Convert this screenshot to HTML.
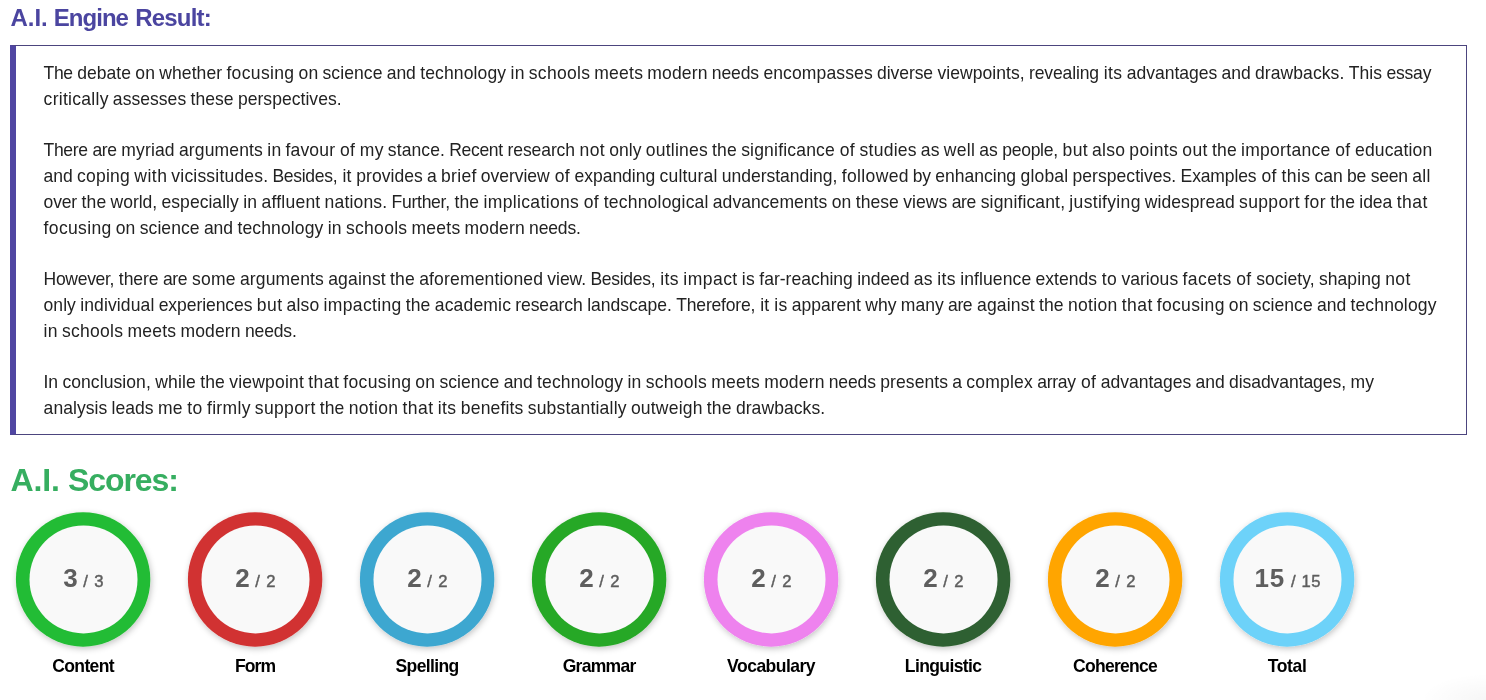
<!DOCTYPE html>
<html lang="en"><head><meta charset="utf-8"><title>A.I. Engine Result</title>
<style>
html,body{margin:0;padding:0;background:#fff;}
body{width:1486px;height:700px;position:relative;overflow:hidden;font-family:"Liberation Sans",sans-serif;}
.t{position:absolute;white-space:pre;margin:0;padding:0;}
h1.t{font-size:24px;line-height:30px;font-weight:700;color:#4b45a0;}
h2.t{font-size:32px;line-height:40px;font-weight:700;color:#36ae60;}
.box{position:absolute;left:10px;top:45px;width:1450px;height:388px;border:1px solid #4c457e;border-left:6px solid #5046a2;background:#fff;}
.b{color:#222;font-size:17.52px;line-height:26px;}
.lab{font-weight:700;color:#000;font-size:17.52px;line-height:26px;width:160px;text-align:center;}
.num{color:#5e5e5e;font-size:26px;line-height:34px;width:130px;text-align:center;}
.num b{font-weight:700;}
.num span{font-size:16.6px;font-weight:400;-webkit-text-stroke:0.45px #5e5e5e;}
</style></head>
<body>
<h1 class="t" style="left:10.50px;top:3px"><span style="letter-spacing:-0.04px;margin-left:0px">A.I.</span> <span style="letter-spacing:-0.96px;margin-left:-0.63px">Engine</span> <span style="letter-spacing:-0.8px;margin-left:0.59px">Result:</span></h1>
<div class="box"></div>
<div class="t b" style="left:43.60px;top:60px"><span style="letter-spacing:-0.4px;margin-left:0px">The</span> <span style="letter-spacing:0px;margin-left:-0.12px">debate</span> <span style="letter-spacing:0.19px;margin-left:-0.51px">on</span> <span style="letter-spacing:0.06px;margin-left:-0.7px">whether</span> <span style="letter-spacing:0.35px;margin-left:-0.58px">focusing</span> <span style="letter-spacing:0.19px;margin-left:-0.87px">on</span> <span style="letter-spacing:0.08px;margin-left:-0.7px">science</span> <span style="letter-spacing:-0.07px;margin-left:-0.6px">and</span> <span style="letter-spacing:0.13px;margin-left:-0.45px">technology</span> <span style="letter-spacing:0.25px;margin-left:-0.62px">in</span> <span style="letter-spacing:0.29px;margin-left:-0.74px">schools</span> <span style="letter-spacing:0.25px;margin-left:-0.81px">meets</span> <span style="letter-spacing:0.15px;margin-left:-0.77px">modern</span> <span style="letter-spacing:-0.14px;margin-left:-0.66px">needs</span> <span style="letter-spacing:0.12px;margin-left:-0.38px">encompasses</span> <span style="letter-spacing:-0.07px;margin-left:-0.63px">diverse</span> <span style="letter-spacing:0.05px;margin-left:-0.45px">viewpoints,</span> <span style="letter-spacing:-0.12px;margin-left:-0.57px">revealing</span> <span style="letter-spacing:0.4px;margin-left:-0.05px">its</span> <span style="letter-spacing:-0.02px;margin-left:-0.57px">advantages</span> <span style="letter-spacing:-0.07px;margin-left:-0.49px">and</span> <span style="letter-spacing:0.07px;margin-left:-0.45px">drawbacks.</span> <span style="letter-spacing:0.1px;margin-left:-0.62px">This</span> <span style="letter-spacing:-0.18px;margin-left:-0.62px">essay</span></div>
<div class="t b" style="left:43.60px;top:86px"><span style="letter-spacing:0.29px;margin-left:0px">critically</span> <span style="letter-spacing:0.04px;margin-left:-0.8px">assesses</span> <span style="letter-spacing:0.04px;margin-left:-0.56px">these</span> <span style="letter-spacing:0.04px;margin-left:-0.55px">perspectives.</span></div>
<div class="t b" style="left:43.60px;top:137px"><span style="letter-spacing:-0.33px;margin-left:0px">There</span> <span style="letter-spacing:-0.37px;margin-left:-0.19px">are</span> <span style="letter-spacing:0.14px;margin-left:-0.15px">myriad</span> <span style="letter-spacing:0.14px;margin-left:-0.65px">arguments</span> <span style="letter-spacing:0.25px;margin-left:-0.63px">in</span> <span style="letter-spacing:0.15px;margin-left:-0.74px">favour</span> <span style="letter-spacing:0.25px;margin-left:-0.05px">of</span> <span style="letter-spacing:0.25px;margin-left:-0.12px">my</span> <span style="letter-spacing:0.09px;margin-left:-0.74px">stance.</span> <span style="letter-spacing:-0.31px;margin-left:-0.61px">Recent</span> <span style="letter-spacing:-0.09px;margin-left:-0.21px">research</span> <span style="letter-spacing:0.4px;margin-left:-0.3px">not</span> <span style="letter-spacing:0.03px;margin-left:-0.79px">only</span> <span style="letter-spacing:0.22px;margin-left:-0.54px">outlines</span> <span style="letter-spacing:0.16px;margin-left:-0.73px">the</span> <span style="letter-spacing:0.19px;margin-left:-0.67px">significance</span> <span style="letter-spacing:0.25px;margin-left:-0.09px">of</span> <span style="letter-spacing:0.23px;margin-left:-0.15px">studies</span> <span style="letter-spacing:0.08px;margin-left:-0.75px">as</span> <span style="letter-spacing:0.27px;margin-left:-0.59px">well</span> <span style="letter-spacing:0.08px;margin-left:-0.78px">as</span> <span style="letter-spacing:-0.25px;margin-left:-0.59px">people,</span> <span style="letter-spacing:0.4px;margin-left:-0.23px">but</span> <span style="letter-spacing:0.23px;margin-left:-0.88px">also</span> <span style="letter-spacing:0.36px;margin-left:-0.74px">points</span> <span style="letter-spacing:0.4px;margin-left:-0.76px">out</span> <span style="letter-spacing:0.16px;margin-left:-0.8px">the</span> <span style="letter-spacing:0.28px;margin-left:-0.67px">importance</span> <span style="letter-spacing:0.25px;margin-left:-0.18px">of</span> <span style="letter-spacing:0.15px;margin-left:-0.15px">education</span></div>
<div class="t b" style="left:43.60px;top:163px"><span style="letter-spacing:-0.07px;margin-left:0px">and</span> <span style="letter-spacing:0.23px;margin-left:-0.45px">coping</span> <span style="letter-spacing:0.55px;margin-left:-0.74px">with</span> <span style="letter-spacing:0.19px;margin-left:-1.07px">vicissitudes.</span> <span style="letter-spacing:-0.29px;margin-left:-0.71px">Besides,</span> <span style="letter-spacing:0.25px;margin-left:0.27px">it</span> <span style="letter-spacing:0.03px;margin-left:-0.27px">provides</span> <span style="letter-spacing:0px;margin-left:-0.65px">a</span> <span style="letter-spacing:0.34px;margin-left:-0.62px">brief</span> <span style="letter-spacing:-0.04px;margin-left:-0.85px">overview</span> <span style="letter-spacing:0.25px;margin-left:0.15px">of</span> <span style="letter-spacing:-0.02px;margin-left:-0.15px">expanding</span> <span style="letter-spacing:0.2px;margin-left:-0.49px">cultural</span> <span style="letter-spacing:-0.03px;margin-left:-0.71px">understanding,</span> <span style="letter-spacing:0.38px;margin-left:-0.49px">followed</span> <span style="letter-spacing:-0.25px;margin-left:-1px">by</span> <span style="letter-spacing:-0.01px;margin-left:-0.38px">enhancing</span> <span style="letter-spacing:0.19px;margin-left:-0.5px">global</span> <span style="letter-spacing:0.04px;margin-left:-0.71px">perspectives.</span> <span style="letter-spacing:-0.13px;margin-left:-0.56px">Examples</span> <span style="letter-spacing:0.25px;margin-left:0.24px">of</span> <span style="letter-spacing:0.47px;margin-left:-0.15px">this</span> <span style="letter-spacing:0.06px;margin-left:-0.99px">can</span> <span style="letter-spacing:-0.25px;margin-left:-0.63px">be</span> <span style="letter-spacing:-0.23px;margin-left:-0.32px">seen</span> <span style="letter-spacing:0.26px;margin-left:-0.29px">all</span></div>
<div class="t b" style="left:43.60px;top:189px"><span style="letter-spacing:-0.2px;margin-left:0px">over</span> <span style="letter-spacing:0.16px;margin-left:-0.31px">the</span> <span style="letter-spacing:-0.01px;margin-left:-0.67px">world,</span> <span style="letter-spacing:0.03px;margin-left:-0.5px">especially</span> <span style="letter-spacing:0.25px;margin-left:-0.53px">in</span> <span style="letter-spacing:0.24px;margin-left:-0.74px">affluent</span> <span style="letter-spacing:0.17px;margin-left:-0.76px">nations.</span> <span style="letter-spacing:-0.26px;margin-left:-0.68px">Further,</span> <span style="letter-spacing:0.16px;margin-left:-0.25px">the</span> <span style="letter-spacing:0.35px;margin-left:-0.67px">implications</span> <span style="letter-spacing:0.25px;margin-left:-0.25px">of</span> <span style="letter-spacing:0.21px;margin-left:-0.15px">technological</span> <span style="letter-spacing:0.05px;margin-left:-0.73px">advancements</span> <span style="letter-spacing:0.19px;margin-left:-0.57px">on</span> <span style="letter-spacing:0.04px;margin-left:-0.7px">these</span> <span style="letter-spacing:0.11px;margin-left:-0.55px">views</span> <span style="letter-spacing:-0.37px;margin-left:-0.62px">are</span> <span style="letter-spacing:0.14px;margin-left:-0.15px">significant,</span> <span style="letter-spacing:0.32px;margin-left:-0.66px">justifying</span> <span style="letter-spacing:0.04px;margin-left:-0.84px">widespread</span> <span style="letter-spacing:0.34px;margin-left:-0.55px">support</span> <span style="letter-spacing:0.4px;margin-left:-0.47px">for</span> <span style="letter-spacing:0.16px;margin-left:-0.53px">the</span> <span style="letter-spacing:-0.06px;margin-left:-0.67px">idea</span> <span style="letter-spacing:0.47px;margin-left:-0.46px">that</span></div>
<div class="t b" style="left:43.60px;top:215px"><span style="letter-spacing:0.35px;margin-left:0px">focusing</span> <span style="letter-spacing:0.19px;margin-left:-0.87px">on</span> <span style="letter-spacing:0.08px;margin-left:-0.7px">science</span> <span style="letter-spacing:-0.07px;margin-left:-0.6px">and</span> <span style="letter-spacing:0.13px;margin-left:-0.45px">technology</span> <span style="letter-spacing:0.25px;margin-left:-0.62px">in</span> <span style="letter-spacing:0.29px;margin-left:-0.74px">schools</span> <span style="letter-spacing:0.25px;margin-left:-0.81px">meets</span> <span style="letter-spacing:0.15px;margin-left:-0.77px">modern</span> <span style="letter-spacing:-0.16px;margin-left:-0.66px">needs.</span></div>
<div class="t b" style="left:43.60px;top:266px"><span style="letter-spacing:-0.31px;margin-left:0px">However,</span> <span style="letter-spacing:-0.05px;margin-left:-0.2px">there</span> <span style="letter-spacing:-0.37px;margin-left:-0.46px">are</span> <span style="letter-spacing:0.28px;margin-left:-0.15px">some</span> <span style="letter-spacing:0.14px;margin-left:-0.8px">arguments</span> <span style="letter-spacing:0.18px;margin-left:-0.66px">against</span> <span style="letter-spacing:0.16px;margin-left:-0.7px">the</span> <span style="letter-spacing:0.16px;margin-left:-0.67px">aforementioned</span> <span style="letter-spacing:-0.05px;margin-left:-0.68px">view.</span> <span style="letter-spacing:-0.29px;margin-left:-0.47px">Besides,</span> <span style="letter-spacing:0.4px;margin-left:0.12px">its</span> <span style="letter-spacing:0.46px;margin-left:-0.57px">impact</span> <span style="letter-spacing:0.25px;margin-left:-0.77px">is</span> <span style="letter-spacing:0.01px;margin-left:-0.56px">far-reaching</span> <span style="letter-spacing:-0.07px;margin-left:-0.53px">indeed</span> <span style="letter-spacing:0.08px;margin-left:-0.45px">as</span> <span style="letter-spacing:0.4px;margin-left:-0.24px">its</span> <span style="letter-spacing:0.1px;margin-left:-0.57px">influence</span> <span style="letter-spacing:0.04px;margin-left:-0.62px">extends</span> <span style="letter-spacing:0.25px;margin-left:-0.2px">to</span> <span style="letter-spacing:0.05px;margin-left:-0.41px">various</span> <span style="letter-spacing:0.42px;margin-left:-0.57px">facets</span> <span style="letter-spacing:0.25px;margin-left:-0.32px">of</span> <span style="letter-spacing:0.03px;margin-left:-0.15px">society,</span> <span style="letter-spacing:0.08px;margin-left:-0.54px">shaping</span> <span style="letter-spacing:0.4px;margin-left:-0.47px">not</span></div>
<div class="t b" style="left:43.60px;top:292px"><span style="letter-spacing:0.03px;margin-left:0px">only</span> <span style="letter-spacing:0.12px;margin-left:-0.54px">individual</span> <span style="letter-spacing:-0.07px;margin-left:-0.64px">experiences</span> <span style="letter-spacing:0.4px;margin-left:-0.41px">but</span> <span style="letter-spacing:0.23px;margin-left:-0.88px">also</span> <span style="letter-spacing:0.34px;margin-left:-0.74px">impacting</span> <span style="letter-spacing:0.16px;margin-left:-0.85px">the</span> <span style="letter-spacing:0.17px;margin-left:-0.67px">academic</span> <span style="letter-spacing:-0.09px;margin-left:-0.69px">research</span> <span style="letter-spacing:0.01px;margin-left:-0.42px">landscape.</span> <span style="letter-spacing:-0.2px;margin-left:-0.56px">Therefore,</span> <span style="letter-spacing:0.25px;margin-left:0.17px">it</span> <span style="letter-spacing:0.25px;margin-left:-0.07px">is</span> <span style="letter-spacing:0.01px;margin-left:-0.56px">apparent</span> <span style="letter-spacing:-0.02px;margin-left:-0.52px">why</span> <span style="letter-spacing:0.01px;margin-left:-0.49px">many</span> <span style="letter-spacing:-0.37px;margin-left:-0.52px">are</span> <span style="letter-spacing:0.18px;margin-left:-0.15px">against</span> <span style="letter-spacing:0.16px;margin-left:-0.7px">the</span> <span style="letter-spacing:0.32px;margin-left:-0.67px">notion</span> <span style="letter-spacing:0.47px;margin-left:-0.83px">that</span> <span style="letter-spacing:0.35px;margin-left:-0.99px">focusing</span> <span style="letter-spacing:0.19px;margin-left:-0.87px">on</span> <span style="letter-spacing:0.08px;margin-left:-0.7px">science</span> <span style="letter-spacing:-0.07px;margin-left:-0.6px">and</span> <span style="letter-spacing:0.13px;margin-left:-0.45px">technology</span></div>
<div class="t b" style="left:43.60px;top:318px"><span style="letter-spacing:0.25px;margin-left:0.02px">in</span> <span style="letter-spacing:0.29px;margin-left:-0.74px">schools</span> <span style="letter-spacing:0.25px;margin-left:-0.81px">meets</span> <span style="letter-spacing:0.15px;margin-left:-0.77px">modern</span> <span style="letter-spacing:-0.16px;margin-left:-0.66px">needs.</span></div>
<div class="t b" style="left:43.60px;top:369px"><span style="letter-spacing:-0.17px;margin-left:0px">In</span> <span style="letter-spacing:0.07px;margin-left:-0.34px">conclusion,</span> <span style="letter-spacing:0.18px;margin-left:-0.58px">while</span> <span style="letter-spacing:0.16px;margin-left:-0.69px">the</span> <span style="letter-spacing:0.21px;margin-left:-0.67px">viewpoint</span> <span style="letter-spacing:0.47px;margin-left:-0.72px">that</span> <span style="letter-spacing:0.35px;margin-left:-0.99px">focusing</span> <span style="letter-spacing:0.19px;margin-left:-0.87px">on</span> <span style="letter-spacing:0.08px;margin-left:-0.7px">science</span> <span style="letter-spacing:-0.07px;margin-left:-0.6px">and</span> <span style="letter-spacing:0.13px;margin-left:-0.45px">technology</span> <span style="letter-spacing:0.25px;margin-left:-0.62px">in</span> <span style="letter-spacing:0.29px;margin-left:-0.74px">schools</span> <span style="letter-spacing:0.25px;margin-left:-0.81px">meets</span> <span style="letter-spacing:0.15px;margin-left:-0.77px">modern</span> <span style="letter-spacing:-0.14px;margin-left:-0.66px">needs</span> <span style="letter-spacing:0.07px;margin-left:-0.38px">presents</span> <span style="letter-spacing:0px;margin-left:-0.69px">a</span> <span style="letter-spacing:0.23px;margin-left:-0.62px">complex</span> <span style="letter-spacing:-0.29px;margin-left:-0.74px">array</span> <span style="letter-spacing:0.25px;margin-left:0.39px">of</span> <span style="letter-spacing:-0.02px;margin-left:-0.15px">advantages</span> <span style="letter-spacing:-0.07px;margin-left:-0.49px">and</span> <span style="letter-spacing:-0.06px;margin-left:-0.45px">disadvantages,</span> <span style="letter-spacing:0.25px;margin-left:-0.43px">my</span></div>
<div class="t b" style="left:43.60px;top:395px"><span style="letter-spacing:0.05px;margin-left:0px">analysis</span> <span style="letter-spacing:0.03px;margin-left:-0.56px">leads</span> <span style="letter-spacing:0.25px;margin-left:-0.52px">me</span> <span style="letter-spacing:0.25px;margin-left:-0.38px">to</span> <span style="letter-spacing:0.34px;margin-left:-0.41px">firmly</span> <span style="letter-spacing:0.34px;margin-left:-0.86px">support</span> <span style="letter-spacing:0.16px;margin-left:-0.85px">the</span> <span style="letter-spacing:0.32px;margin-left:-0.67px">notion</span> <span style="letter-spacing:0.47px;margin-left:-0.83px">that</span> <span style="letter-spacing:0.4px;margin-left:-0.64px">its</span> <span style="letter-spacing:0.17px;margin-left:-0.57px">benefits</span> <span style="letter-spacing:0.2px;margin-left:-0.69px">substantially</span> <span style="letter-spacing:0.21px;margin-left:-0.72px">outweigh</span> <span style="letter-spacing:0.16px;margin-left:-0.72px">the</span> <span style="letter-spacing:0.07px;margin-left:-0.67px">drawbacks.</span></div>
<h2 class="t" style="left:10.60px;top:460px"><span style="letter-spacing:-0.12px;margin-left:0px">A.I.</span> <span style="letter-spacing:-1.07px;margin-left:-0.82px">Scores:</span></h2>
<svg width="1486" height="700" viewBox="0 0 1486 700" style="position:absolute;left:0;top:0">
<defs><filter id="sh" x="-20%" y="-20%" width="140%" height="140%"><feDropShadow dx="1" dy="2" stdDeviation="3.4" flood-color="#000" flood-opacity="0.24"/></filter></defs>
<circle cx="83.1" cy="579.45" r="67.2" fill="#24bc35" filter="url(#sh)"/>
<circle cx="83.5" cy="579.45" r="54.0" fill="#f9f9f9"/>
<circle cx="255.1" cy="579.45" r="67.2" fill="#d13131" filter="url(#sh)"/>
<circle cx="255.5" cy="579.45" r="54.0" fill="#f9f9f9"/>
<circle cx="427.1" cy="579.45" r="67.2" fill="#3ea7d0" filter="url(#sh)"/>
<circle cx="427.5" cy="579.45" r="54.0" fill="#f9f9f9"/>
<circle cx="599.1" cy="579.45" r="67.2" fill="#26a826" filter="url(#sh)"/>
<circle cx="599.5" cy="579.45" r="54.0" fill="#f9f9f9"/>
<circle cx="771.1" cy="579.45" r="67.2" fill="#ee82ee" filter="url(#sh)"/>
<circle cx="771.5" cy="579.45" r="54.0" fill="#f9f9f9"/>
<circle cx="943.1" cy="579.45" r="67.2" fill="#2f6131" filter="url(#sh)"/>
<circle cx="943.5" cy="579.45" r="54.0" fill="#f9f9f9"/>
<circle cx="1115.1" cy="579.45" r="67.2" fill="#ffa500" filter="url(#sh)"/>
<circle cx="1115.5" cy="579.45" r="54.0" fill="#f9f9f9"/>
<circle cx="1287.1" cy="579.45" r="67.2" fill="#6dd2f9" filter="url(#sh)"/>
<circle cx="1287.5" cy="579.45" r="54.0" fill="#f9f9f9"/>
</svg>
<div class="t num" style="left:18.70px;top:561px"><b style="letter-spacing:0.000px">3</b><span style="letter-spacing:0.671px;word-spacing:0.311px"> / 3</span></div>
<div class="t lab" style="left:3.10px;top:653px;letter-spacing:-0.645px;word-spacing:0.000px">Content</div>
<div class="t num" style="left:190.70px;top:561px"><b style="letter-spacing:0.000px">2</b><span style="letter-spacing:0.671px;word-spacing:0.311px"> / 2</span></div>
<div class="t lab" style="left:175.10px;top:653px;letter-spacing:-0.959px;word-spacing:0.000px">Form</div>
<div class="t num" style="left:362.70px;top:561px"><b style="letter-spacing:0.000px">2</b><span style="letter-spacing:0.671px;word-spacing:0.311px"> / 2</span></div>
<div class="t lab" style="left:347.10px;top:653px;letter-spacing:-0.614px;word-spacing:0.000px">Spelling</div>
<div class="t num" style="left:534.70px;top:561px"><b style="letter-spacing:0.000px">2</b><span style="letter-spacing:0.671px;word-spacing:0.311px"> / 2</span></div>
<div class="t lab" style="left:519.10px;top:653px;letter-spacing:-0.719px;word-spacing:0.000px">Grammar</div>
<div class="t num" style="left:706.70px;top:561px"><b style="letter-spacing:0.000px">2</b><span style="letter-spacing:0.671px;word-spacing:0.311px"> / 2</span></div>
<div class="t lab" style="left:691.10px;top:653px;letter-spacing:-0.516px;word-spacing:0.000px">Vocabulary</div>
<div class="t num" style="left:878.70px;top:561px"><b style="letter-spacing:0.000px">2</b><span style="letter-spacing:0.671px;word-spacing:0.311px"> / 2</span></div>
<div class="t lab" style="left:863.10px;top:653px;letter-spacing:-0.627px;word-spacing:0.000px">Linguistic</div>
<div class="t num" style="left:1050.70px;top:561px"><b style="letter-spacing:0.000px">2</b><span style="letter-spacing:0.671px;word-spacing:0.311px"> / 2</span></div>
<div class="t lab" style="left:1035.10px;top:653px;letter-spacing:-0.725px;word-spacing:0.000px">Coherence</div>
<div class="t num" style="left:1222.70px;top:561px"><b style="letter-spacing:0.922px">15</b><span style="letter-spacing:0.422px;word-spacing:0.609px"> / 15</span></div>
<div class="t lab" style="left:1207.10px;top:653px;letter-spacing:-0.337px;word-spacing:0.000px">Total</div>
<div style="position:absolute;right:0;bottom:0;width:64px;height:26px;background:radial-gradient(ellipse at 100% 100%,rgba(0,0,0,0.035),rgba(0,0,0,0) 72%)"></div>
</body></html>
